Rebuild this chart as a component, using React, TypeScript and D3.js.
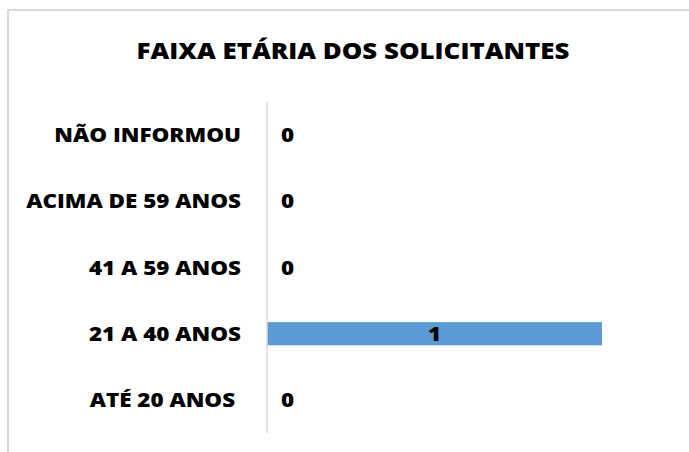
import React from "react";
import * as d3 from "d3";

const categories = ["NÃO INFORMOU", "ACIMA DE 59 ANOS", "41 A 59 ANOS", "21 A 40 ANOS", "ATÉ 20 ANOS "];
const values = [0, 0, 0, 1, 0];
const title = "FAIXA ETÁRIA DOS SOLICITANTES";

const W = 689;
const H = 452;
const SX = 1.15;
const SXT = 1.125;

export default function App() {
  const x = d3.scaleLinear().domain([0, 1]).range([267, 602]);
  const y = d3.scaleBand<string>().domain(categories).range([102, 433]).paddingInner(0.65).paddingOuter(0.325);
  const font = "'Open Sans', Lato, sans-serif";
  return (
    <svg
      width={W}
      height={H}
      style={{ position: "absolute", left: 0, top: 0, background: "#fff" }}
      fontFamily={font}
    >
      <rect x={8} y={10} width={W + 20} height={H + 20} fill="#fff" stroke="#d9d9d9" strokeWidth={2} />
      <text
        transform={`translate(353,59) scale(${SXT},1)`}
        textAnchor="middle"
        fontSize={23}
        fontWeight={800}
        fill="#000"
      >
        {title}
      </text>
      {categories.map((c, i) => {
        const yc = (y(c) ?? 0) + y.bandwidth() / 2;
        const v = values[i];
        const lx = v > 0 ? (x(0) + x(v)) / 2 : x(0) + 14;
        return (
          <g key={c}>
            <text
              transform={`translate(241,${yc}) scale(${SX},1)`}
              dy="0.36em"
              textAnchor="end"
              fontSize={19.5}
              fontWeight={800}
              fill="#000"
              style={{ whiteSpace: "pre" }}
            >
              {c}
            </text>
            {v > 0 && (
              <rect x={x(0)} y={y(c)} width={x(v) - x(0)} height={y.bandwidth()} fill="#5b9bd5" />
            )}
            <text
              transform={`translate(${lx},${yc}) scale(${SX},1)`}
              dy="0.36em"
              textAnchor={v > 0 ? "middle" : "start"}
              fontSize={19.5}
              fontWeight={800}
              fill="#000"
            >
              {v}
            </text>
          </g>
        );
      })}
      <line x1={x(0)} x2={x(0)} y1={102} y2={433} stroke="#d9d9d9" strokeWidth={1.5} />
    </svg>
  );
}
